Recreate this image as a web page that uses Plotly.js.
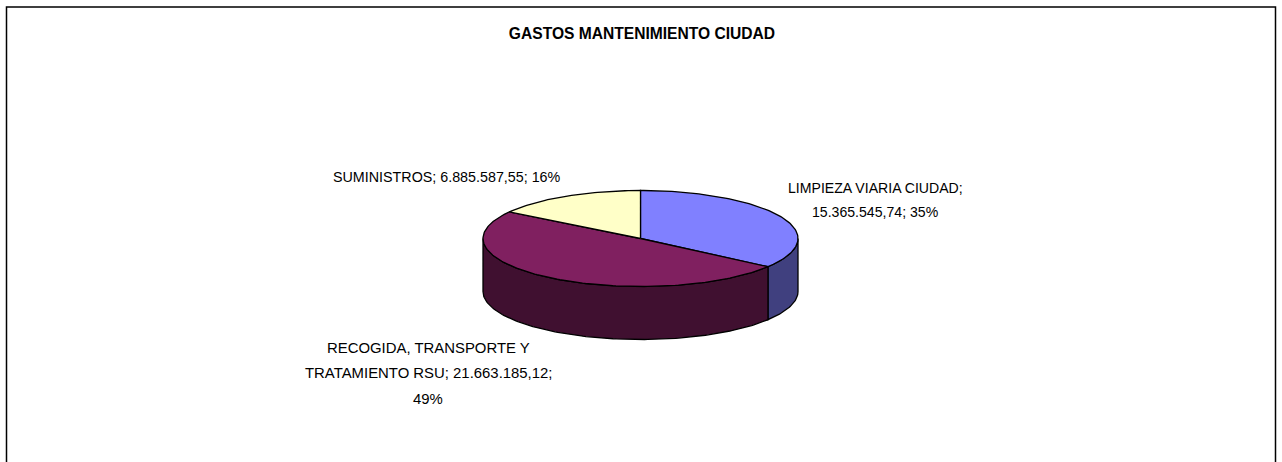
<!DOCTYPE html>
<html>
<head>
<meta charset="utf-8">
<script src="https://cdn.plot.ly/plotly-3.0.1.min.js"></script>
<style>html,body{margin:0;padding:0;background:#fff;overflow:hidden}#chart{width:1282px;height:462px}</style>
</head>
<body>
<div id="chart"></div>
<script>
const chartTitle = 'GASTOS MANTENIMIENTO CIUDAD';
const categories = ['LIMPIEZA VIARIA CIUDAD', 'RECOGIDA, TRANSPORTE Y TRATAMIENTO RSU', 'SUMINISTROS'];
const values = [15365545.74, 21663185.12, 6885587.55];
const valueLabels = ['15.365.545,74', '21.663.185,12', '6.885.587,55'];
const topColors = ['#8080FF', '#802060', '#FFFFC8'];
const sideColors = ['#40407F', '#401030', '#808060'];

// Layout of the pseudo-3D pie, in the chart's own pixel-sized axes.
const cx = 640.5, cy = 238.5, rx = 157.5, ry = 48, depth = 53;
const total = values.reduce((a, b) => a + b, 0);
const pct = values.map(v => Math.round(v / total * 100) + '%');

function pt(a, dy) {
  return [cx + rx * Math.sin(a), cy + dy - ry * Math.cos(a)];
}
function arc(a0, a1, dy) {
  const n = Math.max(2, Math.ceil(Math.abs(a1 - a0) / 0.02));
  const out = [];
  for (let i = 0; i <= n; i++) out.push(pt(a0 + (a1 - a0) * i / n, dy));
  return out;
}
function poly(points, color) {
  return {
    type: 'scatter', mode: 'lines', x: points.map(p => p[0]), y: points.map(p => p[1]),
    fill: 'toself', fillcolor: color, line: {color: '#000', width: 1.3}, hoverinfo: 'skip', showlegend: false
  };
}

const starts = [];
let acc = 0;
values.forEach(v => { starts.push(acc / total * 2 * Math.PI); acc += v; });
const ends = starts.map((s, i) => i + 1 < starts.length ? starts[i + 1] : 2 * Math.PI);

const traces = [];
// Side walls: only the part of each slice on the near half of the pie.
values.forEach((v, i) => {
  const a0 = Math.max(starts[i], Math.PI / 2), a1 = Math.min(ends[i], 3 * Math.PI / 2);
  if (a1 > a0) {
    const top = arc(a0, a1, 0), bottom = arc(a1, a0, depth);
    traces.push(poly(top.concat(bottom, [top[0]]), sideColors[i]));
  }
});
// Top faces.
values.forEach((v, i) => {
  const rim = arc(starts[i], ends[i], 0);
  traces.push(poly([[cx, cy]].concat(rim, [[cx, cy]]), topColors[i]));
});

const labelLines = [
  {lines: [categories[0] + ';', valueLabels[0] + '; ' + pct[0]], x: 875.5, y: [188, 212], size: 14.1},
  {lines: ['RECOGIDA, TRANSPORTE Y', 'TRATAMIENTO RSU; ' + valueLabels[1] + ';', pct[1]], x: 428, y: [348, 373, 399], size: 14.9},
  {lines: [categories[2] + '; ' + valueLabels[2] + '; ' + pct[2]], x: 447, y: [177], size: 14.3}
];
const annotations = [];
labelLines.forEach(l => l.lines.forEach((t, j) => annotations.push({
  xref: 'x', yref: 'y', x: l.x, y: l.y[j], text: t, showarrow: false,
  xanchor: 'center', yanchor: 'middle',
  font: {family: '"Liberation Sans", Arial, sans-serif', size: l.size, color: '#000'}
})));

const layout = {
  width: 1282, height: 462,
  margin: {l: 0, r: 0, t: 0, b: 0, pad: 0},
  paper_bgcolor: '#fff', plot_bgcolor: '#fff',
  title: {
    text: '<b>' + chartTitle + '</b>', x: 642 / 1282, xref: 'paper', xanchor: 'center',
    y: 1 - 34 / 462, yref: 'container', yanchor: 'middle',
    font: {family: '"Liberation Sans", Arial, sans-serif', size: 15.6, color: '#000'}
  },
  xaxis: {range: [0, 1282], visible: false, fixedrange: true},
  yaxis: {range: [462, 0], visible: false, fixedrange: true},
  showlegend: false,
  annotations,
  shapes: [{
    type: 'path', xref: 'x', yref: 'y',
    path: 'M 6.5 470 L 6.5 7 L 1275.5 7 L 1275.5 470',
    line: {color: '#000', width: 1.5}
  }]
};
Plotly.newPlot('chart', traces, layout, {displayModeBar: false, responsive: false});
</script>
</body>
</html>
